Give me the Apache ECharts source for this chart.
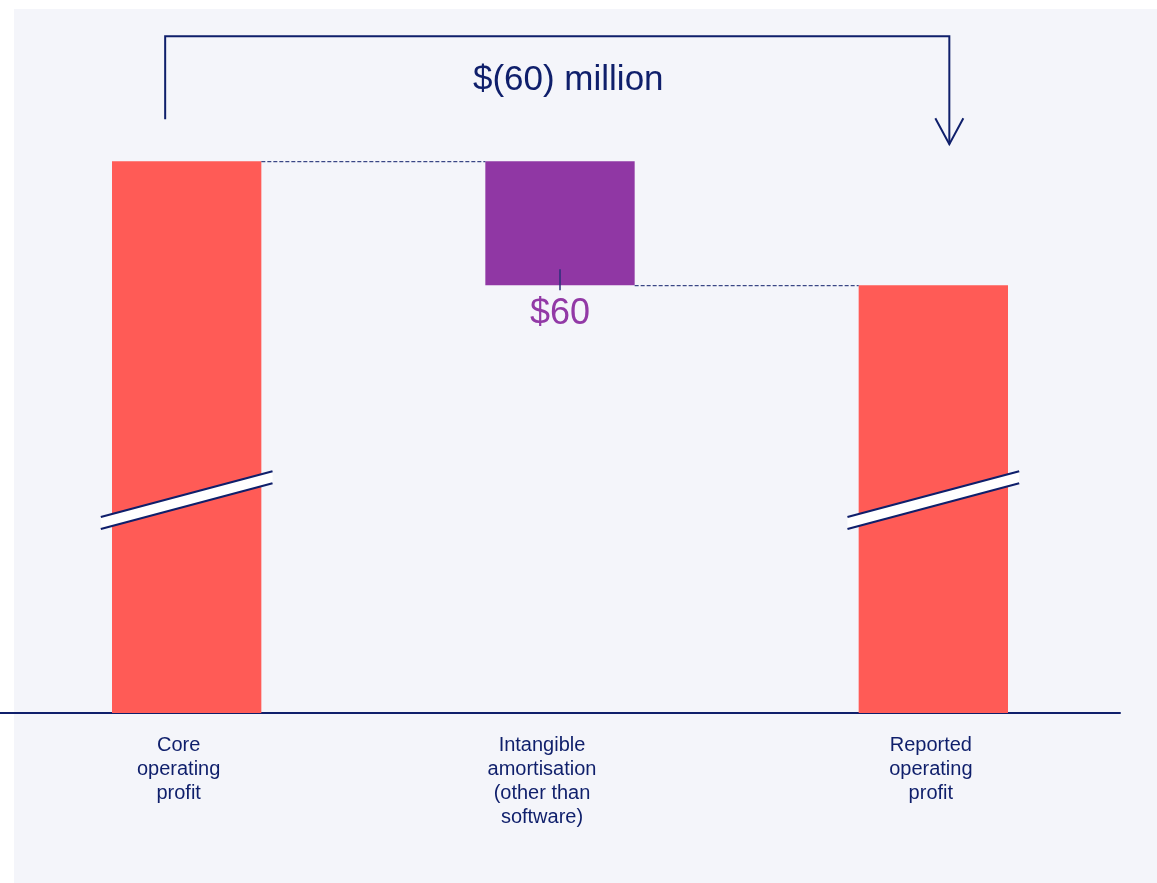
<!DOCTYPE html>
<html>
<head>
<meta charset="utf-8">
<script src="https://cdn.jsdelivr.net/npm/echarts@6/dist/echarts.min.js"></script>
<style>
  html, body { margin: 0; padding: 0; background: #ffffff; }
  #panel { position: absolute; left: 14px; top: 9px; width: 1143px; height: 874px; background: #f4f5fa; }
  #chartContainer { position: absolute; left: 0; top: 0; width: 1157px; height: 883px; }
</style>
</head>
<body>
<div id="panel"></div>
<div id="chartContainer"></div>
<script>
// Chart data ($ million). The axis is broken, so totals sit on a shifted scale
const categories = ['Core\noperating\nprofit', 'Intangible\namortisation\n(other than\nsoftware)', 'Reported\noperating\nprofit'];
const totals = [1267, '-', 1207];
const bridgeBase = ['-', 1207, '-'];
const amortisation = ['-', 60, '-'];
const breakLevel = 1103;          // where the break marks sit
const axisMin = 1000;
const axisMax = 1300;
const bridgeTitle = '$(60) million';

const navy = '#0f1f6b';
const red = '#ff5b56';
const purple = '#9037a4';
const barRatio = 0.4;
const font = '"Liberation Sans", Arial, sans-serif';
// the labels sit a little left of their bars in the original
const labelPadRight = [16, 36, 5];

// connector lines between bar tops: [fromIndex, toIndex, level]
const connectors = [[0, 1, totals[0]], [1, 2, totals[2]]];
const breakMarks = [[0, breakLevel], [2, breakLevel]];
const leaderTicks = [[1, bridgeBase[1]]];

function renderConnector(params, api) {
    const from = api.coord([api.value(0), api.value(2)]);
    const to = api.coord([api.value(1), api.value(2)]);
    const half = api.size([1, 0])[0] * barRatio / 2;
    return {
        type: 'line',
        shape: { x1: from[0] + half, y1: from[1] + 0.5, x2: to[0] - half, y2: to[1] + 0.5 },
        style: { stroke: navy, lineWidth: 1, lineDash: [4, 2] }
    };
}

function renderBreak(params, api) {
    const c = api.coord([api.value(0), api.value(1)]);
    const w = api.size([1, 0])[0] * 0.23;
    const rise = w * 0.267;
    const cx = c[0], cy = c[1];
    return {
        type: 'group',
        children: [
            {
                type: 'polygon',
                shape: { points: [[cx - w, cy - 6 + rise], [cx + w, cy - 6 - rise], [cx + w, cy + 6 - rise], [cx - w, cy + 6 + rise]] },
                style: { fill: '#ffffff' }
            },
            {
                type: 'line',
                shape: { x1: cx - w, y1: cy - 6 + rise, x2: cx + w, y2: cy - 6 - rise },
                style: { stroke: navy, lineWidth: 2.2 }
            },
            {
                type: 'line',
                shape: { x1: cx - w, y1: cy + 6 + rise, x2: cx + w, y2: cy + 6 - rise },
                style: { stroke: navy, lineWidth: 2.2 }
            }
        ]
    };
}

function renderTick(params, api) {
    const c = api.coord([api.value(0), api.value(1)]);
    return {
        type: 'line',
        shape: { x1: c[0], y1: c[1] - 16, x2: c[0], y2: c[1] + 5 },
        style: { stroke: '#2a2f7a', lineWidth: 1.5 }
    };
}

const myChart = echarts.init(document.getElementById('chartContainer'));

const option = {
    backgroundColor: 'transparent',
    animation: false,
    grid: { left: 0, right: 37, top: 93, bottom: 170 },
    xAxis: {
        type: 'category',
        data: categories.map((name, i) => ({
            value: name,
            textStyle: { padding: [0, labelPadRight[i], 0, 0] }
        })),
        axisTick: { show: false },
        axisLine: { lineStyle: { color: navy, width: 2 } },
        axisLabel: {
            interval: 0,
            color: navy,
            fontSize: 20,
            lineHeight: 24,
            fontFamily: font,
            margin: 20
        }
    },
    yAxis: {
        type: 'value',
        min: axisMin,
        max: axisMax,
        show: false,
        splitLine: { show: false }
    },
    series: [
        {
            type: 'bar',
            stack: 'bridge',
            barWidth: (barRatio * 100) + '%',
            data: totals,
            itemStyle: { color: red }
        },
        {
            type: 'bar',
            stack: 'bridge',
            data: bridgeBase,
            itemStyle: { color: 'transparent' },
            silent: true
        },
        {
            type: 'bar',
            stack: 'bridge',
            data: amortisation,
            itemStyle: { color: purple },
            label: {
                show: true,
                position: 'bottom',
                distance: 11,
                formatter: p => '$' + p.value,
                color: '#9239a6',
                fontSize: 36,
                fontFamily: font
            }
        },
        {
            type: 'custom',
            renderItem: renderConnector,
            data: connectors,
            encode: { x: [0, 1], y: 2 },
            z: 3
        },
        {
            type: 'custom',
            renderItem: renderBreak,
            data: breakMarks,
            encode: { x: 0, y: 1 },
            z: 4
        },
        {
            type: 'custom',
            renderItem: renderTick,
            data: leaderTicks,
            encode: { x: 0, y: 1 },
            z: 4
        }
    ]
};

myChart.setOption(option);

// bracket with arrow over the chart, placed from the first and last bar tops
const p0 = myChart.convertToPixel({ gridIndex: 0 }, [0, totals[0]]);
const p2 = myChart.convertToPixel({ gridIndex: 0 }, [2, totals[2]]);
const leftX = p0[0] - 21.5;
const rightX = p2[0] + 16;
const topY = p0[1] - 125;
const tipY = p0[1] - 17;

myChart.setOption({
    graphic: [
        {
            type: 'polyline',
            shape: { points: [[leftX, p0[1] - 42], [leftX, topY], [rightX, topY], [rightX, tipY]] },
            style: { stroke: navy, lineWidth: 2, fill: null }
        },
        {
            type: 'polyline',
            shape: { points: [[rightX - 14, tipY - 26], [rightX, tipY], [rightX + 14, tipY - 26]] },
            style: { stroke: navy, lineWidth: 2, fill: null }
        },
        {
            type: 'text',
            x: (leftX + rightX) / 2 + 11,
            y: topY + 44,
            style: {
                text: bridgeTitle,
                fill: navy,
                fontSize: 35,
                fontFamily: font,
                align: 'center',
                verticalAlign: 'middle'
            }
        }
    ]
});
</script>
</body>
</html>
